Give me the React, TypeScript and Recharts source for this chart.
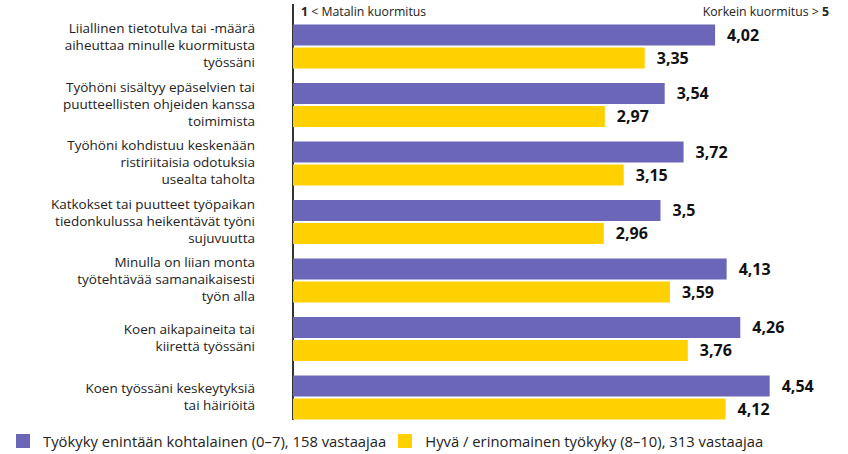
import * as React from "react";
import { BarChart, Bar, XAxis, YAxis, LabelList } from "recharts";

const categories = [
  "Liiallinen tietotulva tai -määrä\naiheuttaa minulle kuormitusta\ntyössäni",
  "Työhöni sisältyy epäselvien tai\npuutteellisten ohjeiden kanssa\ntoimimista",
  "Työhöni kohdistuu keskenään\nristiriitaisia odotuksia\nusealta taholta",
  "Katkokset tai puutteet työpaikan\ntiedonkulussa heikentävät työni\nsujuvuutta",
  "Minulla on liian monta\ntyötehtävää samanaikaisesti\ntyön alla",
  "Koen aikapaineita tai\nkiirettä työssäni",
  "Koen työssäni keskeytyksiä\ntai häiriöitä",
];
const lowWorkAbility = [4.02, 3.54, 3.72, 3.5, 4.13, 4.26, 4.54];
const goodWorkAbility = [3.35, 2.97, 3.15, 2.96, 3.59, 3.76, 4.12];
const seriesNames = [
  "Työkyky enintään kohtalainen (0–7), 158 vastaajaa",
  "Hyvä / erinomainen työkyky (8–10), 313 vastaajaa",
];

const PURPLE = "#6c66b9";
const YELLOW = "#ffd100";
const seriesColors = [PURPLE, YELLOW];
const FONT = "'Open Sans', 'Noto Sans', sans-serif";

const data = categories.map((c, i) => ({
  name: c,
  low: lowWorkAbility[i],
  good: goodWorkAbility[i],
}));

const fmt = (v: number) => String(v).replace(".", ",");

function CategoryTick(props: any) {
  const { x, y, payload } = props;
  const lines: string[] = String(payload.value).split("\n");
  const lh = 17;
  const start = y - ((lines.length - 1) * lh) / 2 - 1;
  return (
    <g>
      {lines.map((l, i) => (
        <text
          key={i}
          x={x}
          y={start + i * lh}
          dy="0.35em"
          textAnchor="end"
          fill="#222"
          fontSize={13.5}
          fontFamily={FONT}
        >
          {l}
        </text>
      ))}
    </g>
  );
}

export default function App() {
  return (
    <div style={{ position: "absolute", left: 0, top: 0, width: 848, height: 454, background: "#fff" }}>
      <div style={{ position: "absolute", left: 301, top: 3, fontFamily: FONT, fontSize: 12.3, color: "#222" }}>
        <b>1</b> &lt; Matalin kuormitus
      </div>
      <div style={{ position: "absolute", right: 19, top: 3, fontFamily: FONT, fontSize: 12.3, color: "#222" }}>
        Korkein kuormitus &gt; <b>5</b>
      </div>
      {/* axis line spans from header down to the last bar */}
      <div style={{ position: "absolute", left: 292, top: 4, width: 1.5, height: 416, background: "#333" }} />
      <BarChart
        width={848}
        height={454}
        data={data}
        layout="vertical"
        margin={{ top: 17.5, right: 30, bottom: 27, left: 0 }}
        barSize={21}
        barGap={2}
      >
        <XAxis type="number" domain={[0, 5]} hide />
        <YAxis
          type="category"
          dataKey="name"
          width={293}
          tickLine={false}
          axisLine={false}
          tickMargin={32}
          tick={<CategoryTick />}
          interval={0}
        />
        <Bar dataKey="low" name={seriesNames[0]} fill={PURPLE} isAnimationActive={false}>
          <LabelList
            dataKey="low"
            position="right"
            offset={12}
            formatter={(v: any) => fmt(v)}
            style={{ fontFamily: FONT, fontSize: 16, fontWeight: 700, fill: "#111" }}
          />
        </Bar>
        <Bar dataKey="good" name={seriesNames[1]} fill={YELLOW} isAnimationActive={false}>
          <LabelList
            dataKey="good"
            position="right"
            offset={12}
            formatter={(v: any) => fmt(v)}
            style={{ fontFamily: FONT, fontSize: 16, fontWeight: 700, fill: "#111" }}
          />
        </Bar>
      </BarChart>
      <div
        style={{
          position: "absolute",
          left: 16,
          top: 431,
          display: "flex",
          alignItems: "center",
          fontFamily: FONT,
          fontSize: 14.8,
          color: "#222",
        }}
      >
        {seriesNames.map((n, i) => (
          <div key={i} style={{ display: "flex", alignItems: "center", marginRight: 12 }}>
            <span style={{ display: "inline-block", width: 14, height: 14, background: seriesColors[i], marginRight: 13 }} />
            <span>{n}</span>
          </div>
        ))}
      </div>
    </div>
  );
}
